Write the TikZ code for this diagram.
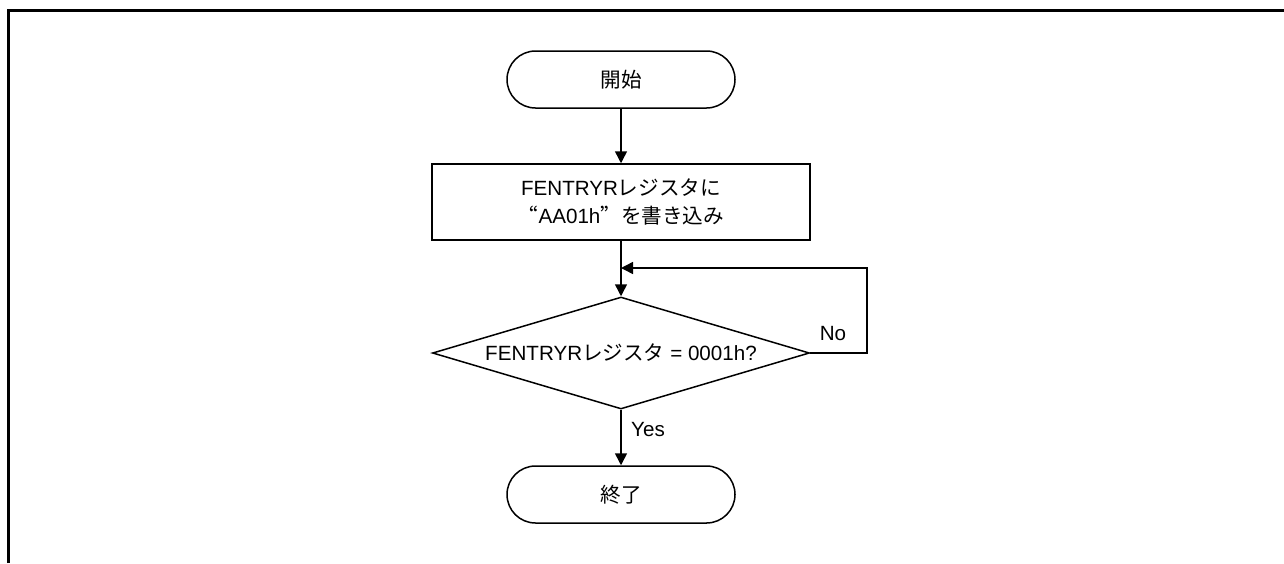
\documentclass[tikz,border=0pt]{standalone}
\usepackage{fontspec}
\setmainfont{Liberation Sans}
\newfontfamily\jp{Noto Sans CJK JP}
\newfontfamily\jpq[CharacterWidth=Full]{Noto Sans CJK JP}
\usetikzlibrary{shapes.geometric,arrows.meta}
\begin{document}
\begin{tikzpicture}[
    x=0.5pt, y=-0.5pt,
    font=\fontsize{10.3pt}{14pt}\selectfont,
    term/.style={draw,line width=0.75pt,rounded corners=14.25pt,minimum width=114pt,minimum height=28.5pt,inner sep=0pt},
    proc/.style={draw,line width=0.75pt,align=center,minimum width=189pt,minimum height=38pt,inner sep=0pt},
    decision/.style={draw,line width=0.75pt,diamond,aspect=3.37,inner sep=0pt,minimum width=188.5pt,minimum height=56pt},
    arr/.style={-{Triangle[length=6pt,width=6pt]},line width=0.75pt},
    lbl/.style={inner sep=0pt}
]
\useasboundingbox (0,0) rectangle (1284,563);
\draw[line width=1.5pt] (8.5,563) -- (8.5,10.5) -- (1284,10.5);
\node[term] (start) at (621,79.5) {\jp 開始};
\node[proc] (write) at (621,202) {FENTRYR{\jp レジスタに}\\{\jpq “}AA01h{\jpq ”}{\jp を書き込み}};
\node[decision] (check) at (621,353) {FENTRYR{\jp レジスタ} = 0001h?};
\node[term] (stop) at (621,494.5) {\jp 終了};
\coordinate (join) at (621,268);
\coordinate (loop) at (867,268);
\node[lbl] (no) at (833,334) {No};
\node[lbl] (yes) at (648,430) {Yes};
\draw[arr] (start) -- (write);
\draw[arr] (write) -- (check);
\draw[arr] (check.east) -| (loop) -- (join);
\draw[arr] (check) -- (stop);
\end{tikzpicture}
\end{document}
